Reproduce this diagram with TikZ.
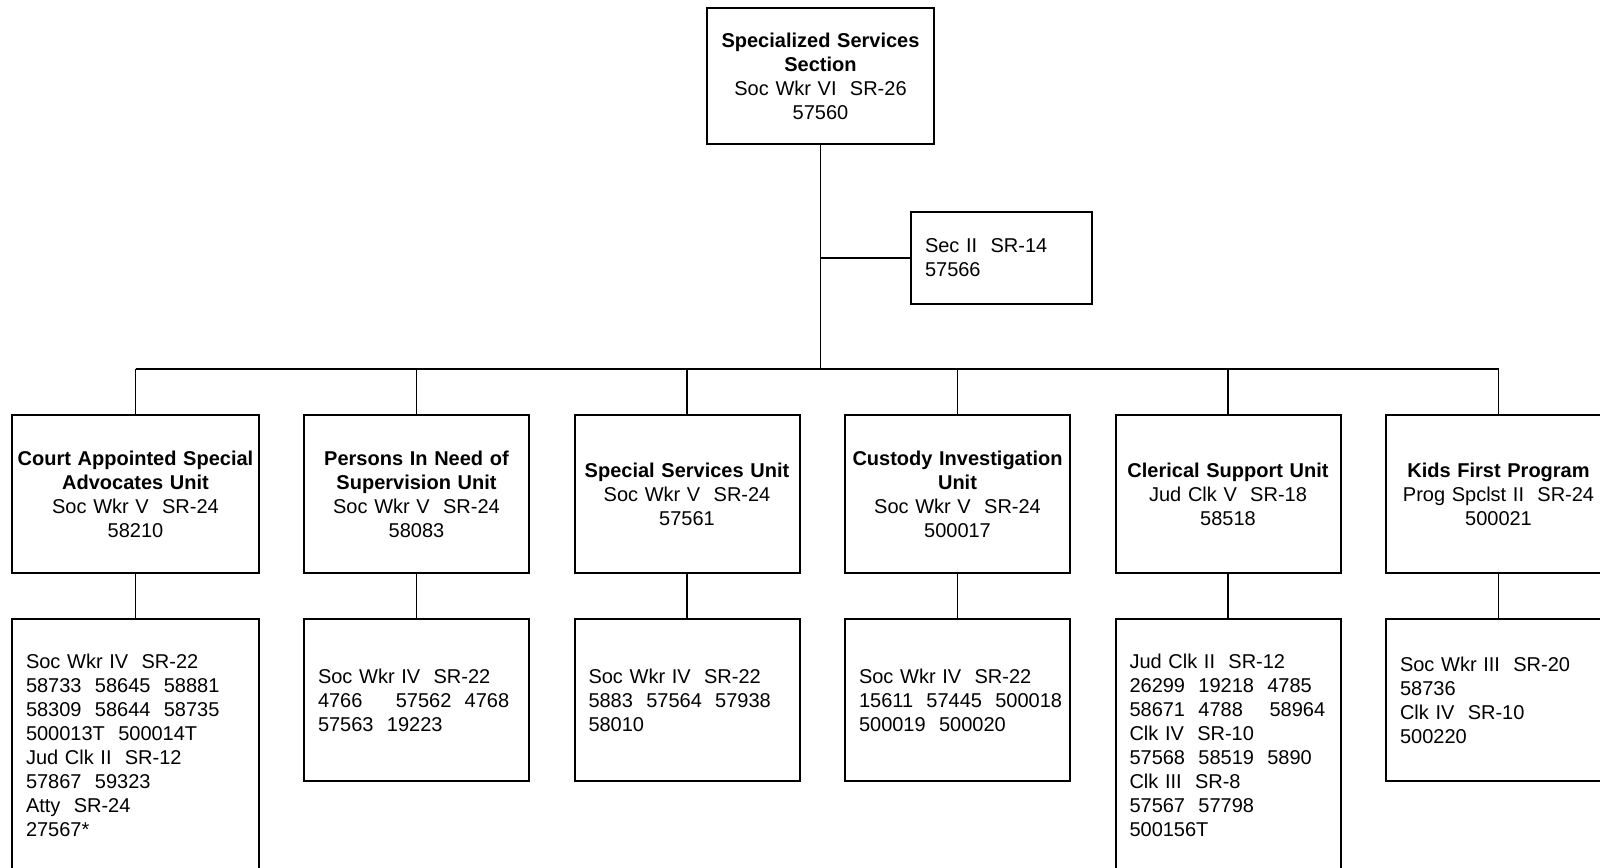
\documentclass[tikz,border=0pt]{standalone}
\usepackage{fontspec}
\setmainfont{Liberation Sans}
\usetikzlibrary{positioning}

\tikzset{
	orgbox/.style={draw, line width=1pt, font=\fontsize{10}{12}\selectfont, inner ysep=0pt},
	unitbox/.style={orgbox, align=center, inner xsep=2pt, text width=108.5pt, minimum height=79pt},
	staffbox/.style={orgbox, align=left, inner xsep=7pt, text width=98.5pt, minimum height=81pt},
	link/.style={line width=0.75pt}
}

\begin{document}
\begin{tikzpicture}[x=0.5pt, y=-0.5pt]
		\useasboundingbox (0,0) rectangle (1600,867);
		\node [orgbox, align=center, inner xsep=2pt, text width=109.5pt, minimum height=68pt] at (820.5,76) (specserv) {\textbf{Specialized Services}\\\textbf{Section}\\Soc Wkr VI~~SR-26\\57560};
		\node [orgbox, align=left, inner xsep=7pt, text width=76.5pt, minimum height=46pt] at (1001.5,258) (secii) {Sec II~~SR-14\\57566};
		\coordinate (bus) at (0,369);
		% units
		\node [unitbox, text width=119.5pt] at (135.5,494) (casa) {\textbf{Court Appointed Special}\\\textbf{Advocates Unit}\\Soc Wkr V~~SR-24\\58210};
		\node [unitbox, right=21.5pt of casa] (pins) {\textbf{Persons In Need of}\\\textbf{Supervision Unit}\\Soc Wkr V~~SR-24\\58083};
		\node [unitbox, right=21.75pt of pins] (ssu) {\textbf{Special Services Unit}\\Soc Wkr V~~SR-24\\57561};
		\node [unitbox, right=21.75pt of ssu] (custinv) {\textbf{Custody Investigation}\\\textbf{Unit}\\Soc Wkr V~~SR-24\\500017};
		\node [unitbox, right=21.75pt of custinv] (clerical) {\textbf{Clerical Support Unit}\\Jud Clk V~~SR-18\\58518};
		\node [unitbox, right=21.75pt of clerical] (kidsfir) {\textbf{Kids First Program}\\Prog Spclst II~~SR-24\\500021};
		% staff
		\node [staffbox, text width=109.5pt, minimum height=126pt, below=22pt of casa] (casastaf) {Soc Wkr IV~~SR-22\\58733~~58645~~58881\\58309~~58644~~58735\\500013T~~500014T\\Jud Clk II~~SR-12\\57867~~59323\\Atty~~SR-24\\27567*};
		\node [staffbox, below=22pt of pins] (pinsstaf) {Soc Wkr IV~~SR-22\\4766~~~~~57562~~4768\\57563~~19223};
		\node [staffbox, below=22pt of ssu] (ssustaf) {Soc Wkr IV~~SR-22\\5883~~57564~~57938\\58010};
		\node [staffbox, below=22pt of custinv] (custstaf) {Soc Wkr IV~~SR-22\\15611~~57445~~500018\\500019~~500020};
		\node [staffbox, minimum height=126pt, below=22pt of clerical] (clerstaf) {Jud Clk II~~SR-12\\26299~~19218~~4785\\58671~~4788~~~~58964\\Clk IV~~SR-10\\57568~~58519~~5890\\Clk III~~SR-8\\57567~~57798\\500156T};
		\node [staffbox, below=22pt of kidsfir] (kidsstaf) {Soc Wkr III~~SR-20\\58736\\Clk IV~~SR-10\\500220};
		% lines
		\draw [link] (specserv.south) -- (specserv.south |- bus);
		\draw [link] (specserv.south |- secii.west) -- (secii.west);
		\draw [link] (casa.north |- bus) -- (kidsfir.north |- bus);
		\foreach \u/\s in {casa/casastaf, pins/pinsstaf, ssu/ssustaf, custinv/custstaf, clerical/clerstaf, kidsfir/kidsstaf} {
			\draw [link] (\u.north |- bus) -- (\u.north);
			\draw [link] (\u.south) -- (\s.north);
		}
\end{tikzpicture}
\end{document}
